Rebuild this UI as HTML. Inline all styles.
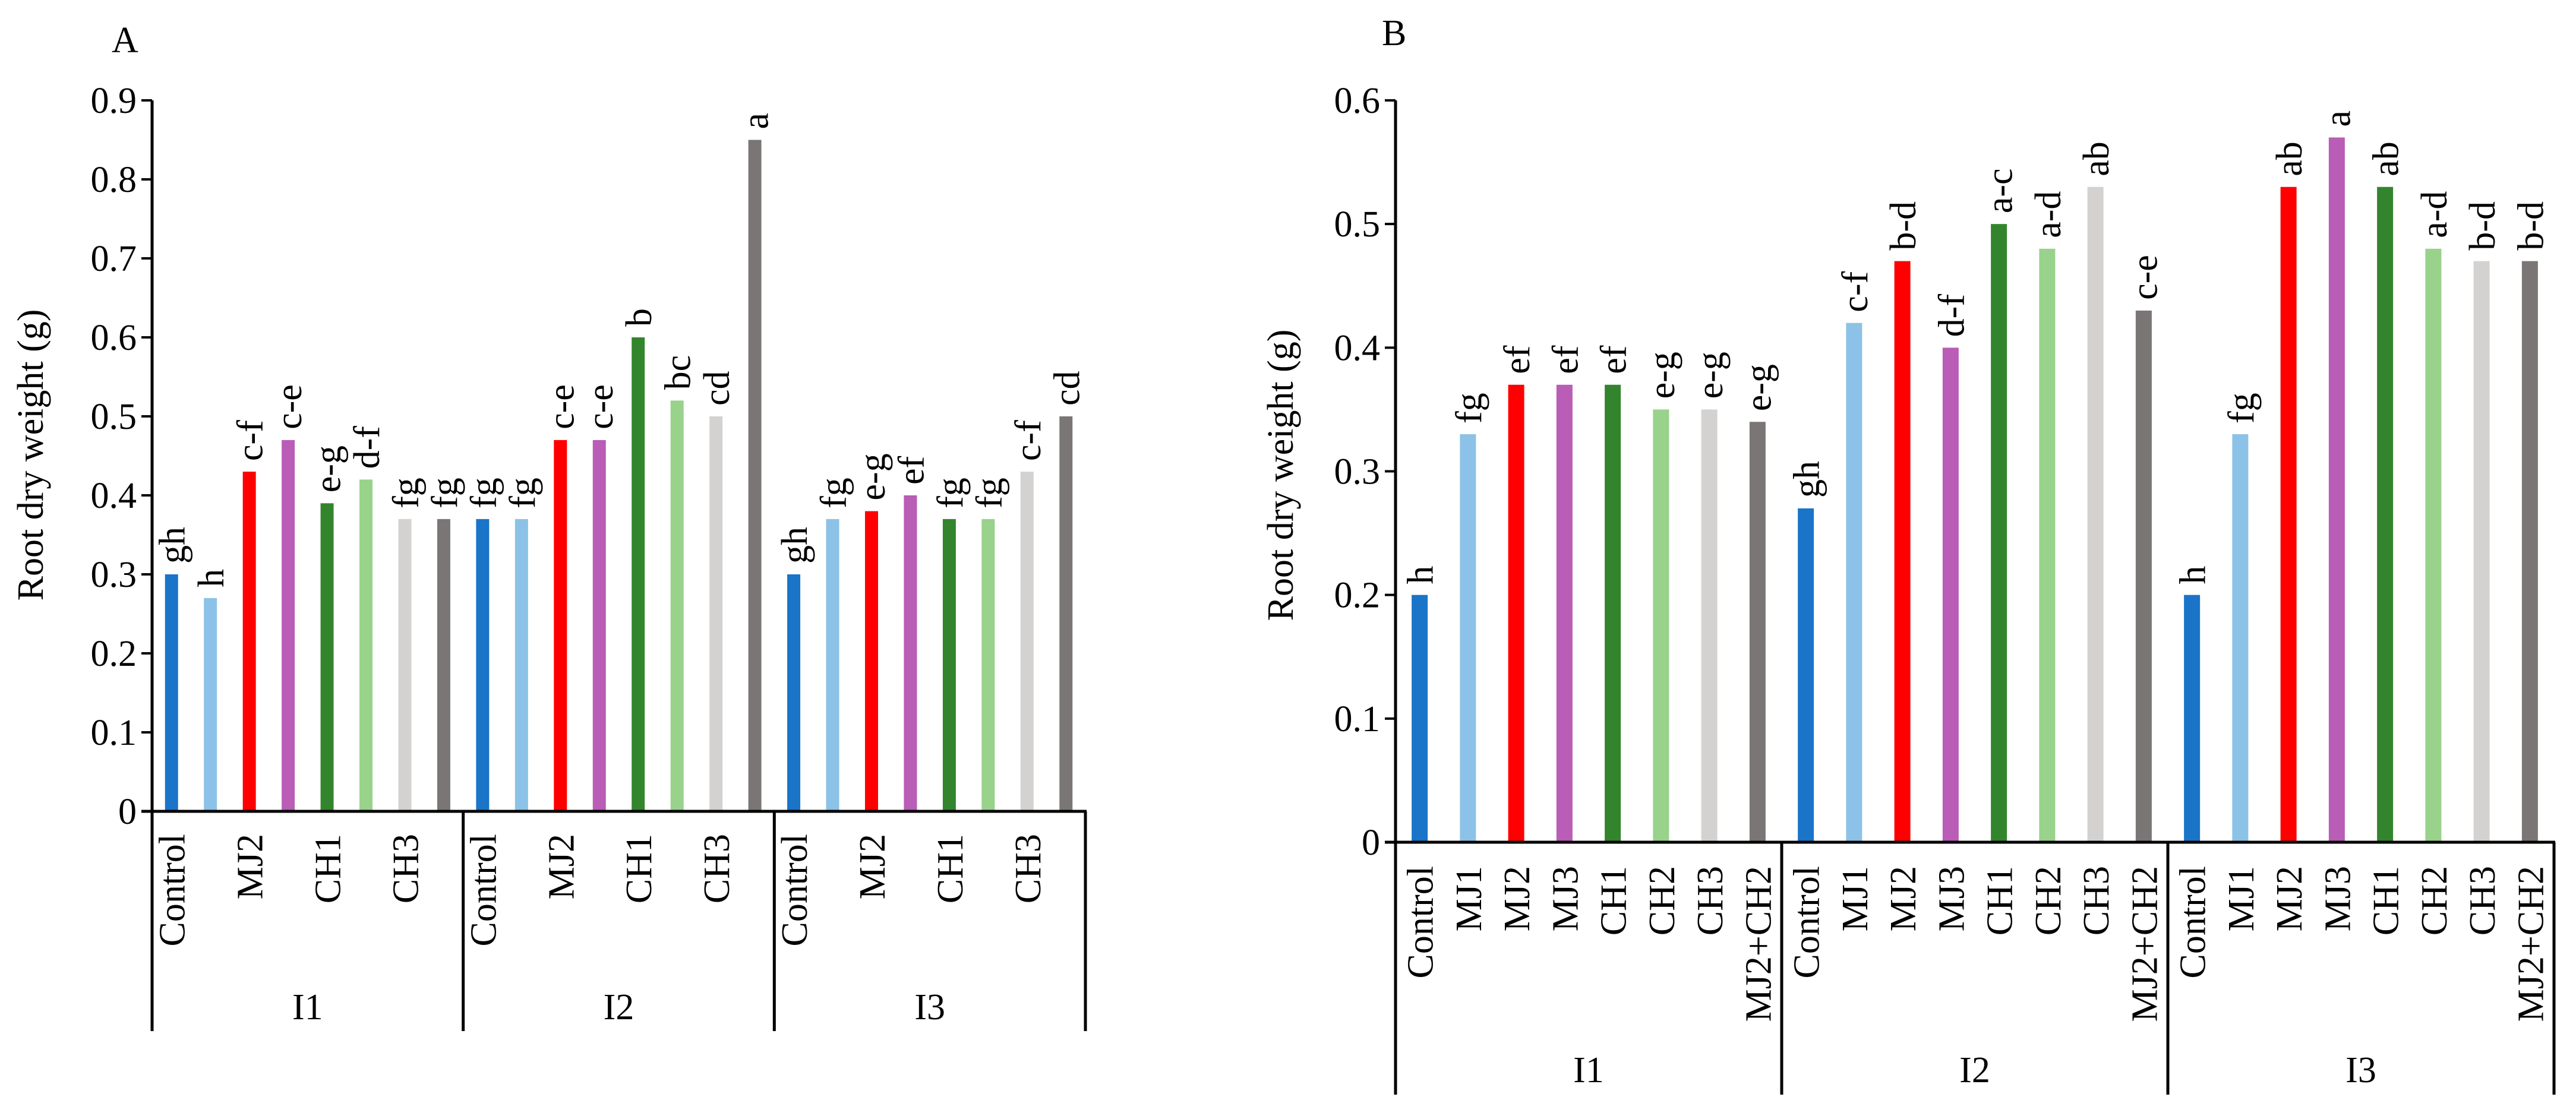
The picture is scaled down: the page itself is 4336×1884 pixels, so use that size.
<!DOCTYPE html>
<html><head><meta charset="utf-8"><style>
html,body{margin:0;padding:0;background:#fff;}
svg text{font-family:"Liberation Serif",serif;fill:#000;}
</style></head><body>
<svg id="chart" width="4336" height="1879" viewBox="0 0 4336 1879" xmlns="http://www.w3.org/2000/svg"></svg>
<script>
const groups = ["I1","I2","I3"];
const categories = ["Control","MJ1","MJ2","MJ3","CH1","CH2","CH3","MJ2+CH2"];
const colors = ["#1a74c8","#8cc2e7","#ff0000","#b95db6","#33852d","#98d28b","#d3d2d1","#7b7676"];
const valuesA = [0.30,0.27,0.43,0.47,0.39,0.42,0.37,0.37, 0.37,0.37,0.47,0.47,0.60,0.52,0.50,0.85, 0.30,0.37,0.38,0.40,0.37,0.37,0.43,0.50];
const lettersA = ["gh","h","c-f","c-e","e-g","d-f","fg","fg", "fg","fg","c-e","c-e","b","bc","cd","a", "gh","fg","e-g","ef","fg","fg","c-f","cd"];
const ticksA = ["0","0.1","0.2","0.3","0.4","0.5","0.6","0.7","0.8","0.9"];
const valuesB = [0.20,0.33,0.37,0.37,0.37,0.35,0.35,0.34, 0.27,0.42,0.47,0.40,0.50,0.48,0.53,0.43, 0.20,0.33,0.53,0.57,0.53,0.48,0.47,0.47];
const lettersB = ["h","fg","ef","ef","ef","e-g","e-g","e-g", "gh","c-f","b-d","d-f","a-c","a-d","ab","c-e", "h","fg","ab","a","ab","a-d","b-d","b-d"];
const ticksB = ["0","0.1","0.2","0.3","0.4","0.5","0.6"];

const svg = document.getElementById('chart');
const NS = "http://www.w3.org/2000/svg";
const FS = 62;
function mk(tag, attrs, parent){const e=document.createElementNS(NS,tag);for(const k in attrs)e.setAttribute(k,attrs[k]);(parent||svg).appendChild(e);return e;}

function panel(cfg){
  const g = mk('g',{});
  
  
  const yMax = cfg.yMax;
  const y = v => cfg.y0 - (v / yMax) * (cfg.y0 - cfg.yTop);
  const n = cfg.values.length;
  const slot = (cfg.xEnd - cfg.x0) / n;
  const xc = i => cfg.x0 + slot * (i + 0.5);
  const pl = mk('text',{x:cfg.letterX,y:cfg.letterY,'font-size':62},g); pl.textContent=cfg.letter;
  
  
  const yt = mk('text',{x:0,y:0,'font-size':FS,'text-anchor':'middle',transform:`translate(${cfg.ytX},${cfg.ytY}) rotate(-90)`},g);
  yt.textContent='Root dry weight (g)';
  
  
  cfg.ticks.forEach(t=>{
    const v=parseFloat(t), yy=y(v);
    const tl=mk('line',{x1:cfg.x0-18,x2:cfg.x0,y1:yy,y2:yy,stroke:'#000','stroke-width':4},g);
    
    
    const tx=mk('text',{x:cfg.x0-26,y:yy+21,'font-size':FS,'text-anchor':'end'},g); tx.textContent=t;
    
    
  });
  cfg.values.forEach((v,i)=>{
    const b=mk('rect',{x:xc(i)-cfg.bw/2,y:y(v),width:cfg.bw,height:cfg.y0-y(v),fill:colors[i%8]},g);
    
    
    const lt=mk('text',{x:0,y:0,'font-size':FS,transform:`translate(${xc(i)+22},${y(v)-18}) rotate(-90)`},g);
    lt.textContent=cfg.letters[i];
    
    
    if(!cfg.skipOdd || i%2===0){
      const cl=mk('text',{x:0,y:0,'font-size':FS,'text-anchor':'end',transform:`translate(${xc(i)+22},${cfg.catTop}) rotate(-90)`},g);
      cl.textContent=categories[i%8];
      
      
    }
  });
  const ya=mk('line',{x1:cfg.x0,x2:cfg.x0,y1:cfg.yTop,y2:cfg.y0,stroke:'#000','stroke-width':5},g);
  
  
  const xa=mk('line',{x1:cfg.x0-18,x2:cfg.xEnd+2,y1:cfg.y0,y2:cfg.y0,stroke:'#000','stroke-width':5},g);
  
  
  for(let k=0;k<=groups.length;k++){
    const sx=cfg.x0+slot*8*k;
    const sl=mk('line',{x1:sx,x2:sx,y1:cfg.y0,y2:cfg.sepBottom,stroke:'#000','stroke-width':5},g);
    
    
    if(k<groups.length){
      const gl=mk('text',{x:sx+slot*4,y:cfg.groupY,'font-size':FS,'text-anchor':'middle'},g);
      gl.textContent=groups[k];
      
      
    }
  }
}
panel({name:'panel-a',letter:'A',letterX:188,letterY:88,values:valuesA,letters:lettersA,ticks:ticksA,yMax:0.9,
  x0:256,xEnd:1827,y0:1366,yTop:169,bw:22,ytX:72,ytY:766,catTop:1404,sepBottom:1736,groupY:1716,skipOdd:true});
panel({name:'panel-b',letter:'B',letterX:2326,letterY:76,values:valuesB,letters:lettersB,ticks:ticksB,yMax:0.6,
  x0:2349,xEnd:4299,y0:1418,yTop:169,bw:27,ytX:2176,ytY:800,catTop:1458,sepBottom:1843,groupY:1822,skipOdd:false});
</script>
</body></html>
